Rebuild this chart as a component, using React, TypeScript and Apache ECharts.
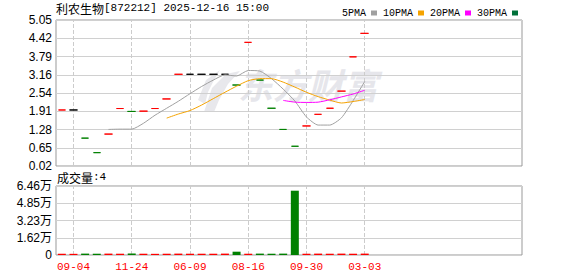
import React, { useEffect, useRef } from 'react';
import * as echarts from 'echarts';

// ---- data ----
const dates = [
  '08-28', '09-04', '09-20', '10-11', '10-30', '11-15', '11-24', '12-20', '02-26', '04-15',
  '05-22', '06-09', '06-27', '07-12', '07-25', '08-05', '08-16', '08-29', '09-06', '09-13',
  '09-23', '09-30', '10-21', '11-18', '12-09', '01-20', '03-03',
];
const closes = [
  1.95, 1.95, 0.98, 0.48, 1.12, 2.0, 1.9, 1.91, 2.0, 2.33,
  3.18, 3.18, 3.18, 3.18, 3.18, 2.81, 4.28, 2.98, 2.01, 1.28,
  0.7, 1.4, 1.8, 2.01, 2.6, 3.78, 4.59,
];
const volumes = [
  1200, 1100, 1300, 1200, 1300, 1200, 1300, 1200, 1100, 1200,
  1300, 1200, 1200, 1200, 1300, 3100, 1200, 1300, 1200, 1300,
  60200, 1200, 1300, 1200, 1300, 1200, 1300,
];
const ma5 = [
  null, null, null, null, 1.28, 1.29, 1.29, 1.49, 1.77, 2.01,
  2.25, 2.51, 2.76, 2.98, 3.16, 3.12, 3.31, 3.29, 3.03, 2.67,
  2.26, 1.71, 1.43, 1.43, 1.68, 2.27, 2.93,
];
const ma10 = [
  null, null, null, null, null, null, null, null, null, 1.67,
  1.81, 1.93, 2.12, 2.34, 2.56, 2.77, 2.96, 3.03, 3.03, 2.91,
  2.74, 2.56, 2.41, 2.29, 2.19, 2.24, 2.31,
];
const ma20 = [
  null, null, null, null, null, null, null, null, null, null,
  null, null, null, null, null, null, null, null, null, 2.28,
  2.22, 2.21, 2.22, 2.3, 2.4, 2.5, 2.63,
];
const ma30: (number | null)[] = [];
const priceTickLabels = ['0.02', '0.65', '1.28', '1.91', '2.54', '3.16', '3.79', '4.42', '5.05'];
const volumeTickLabels = ['0', '1.62万', '3.23万', '4.85万', '6.46万'];
const volumeAxisMax = 64600;
const legendNames = ['5PMA', '10PMA', '20PMA', '30PMA'];
const stockName = '利农生物';
const stockInfo = '[872212] 2025-12-16 15:00';
const volumeTitleName = '成交量';
const volumeTitleValue = ':4';
const watermarkText = '东方财富';

// ---- styles ----
const RED = '#ff0000';
const GREEN = '#008000';
const BLACK = '#000000';
const MA_COLORS = ['#a0a0a0', '#f5a300', '#ff00ff', '#00703a'];
const SLOTS = 40;
const LABEL_STEP = 5;
const LABEL_OFFSET = 1;
const MONO = 'Liberation Mono, DejaVu Sans Mono, monospace';
const SANS = 'Liberation Sans, Noto Sans CJK SC, sans-serif';
const CJK = 'Noto Sans CJK SC, sans-serif';

export default function App() {
  const ref = useRef<HTMLDivElement>(null);
  useEffect(() => {
    document.body.style.margin = '0';
    const chart = echarts.init(ref.current!, null, { renderer: 'svg' });

    const priceMin = parseFloat(priceTickLabels[0]);
    const priceMax = parseFloat(priceTickLabels[priceTickLabels.length - 1]);
    const priceStep = (priceMax - priceMin) / (priceTickLabels.length - 1);
    const priceTicks = priceTickLabels.map((_, i) => priceMin + i * priceStep);
    const volStep = volumeAxisMax / (volumeTickLabels.length - 1);

    const colorOf = (i: number) => {
      if (i === 0) return RED;
      if (closes[i] > closes[i - 1]) return RED;
      if (closes[i] < closes[i - 1]) return GREEN;
      return BLACK;
    };
    const volColorOf = (i: number) => (i === 0 || closes[i] >= closes[i - 1] ? RED : GREEN);

    const candleData = closes.map((c, i) => {
      const col = colorOf(i);
      return {
        value: [c, c, c, c],
        itemStyle: { color: col, color0: col, borderColor: col, borderColor0: col, borderColorDoji: col },
      };
    });
    const volData = volumes.map((v, i) => ({ value: v, itemStyle: { color: volColorOf(i) } }));

    const labelIdx = dates.map((_, i) => i).filter((i) => i % LABEL_STEP === LABEL_OFFSET);
    const vLineStyle = { type: 'dashed' as const, color: '#cccccc', width: 1 };
    const markLines = {
      silent: true,
      z: 1,
      symbol: ['none', 'none'],
      label: { show: false },
      lineStyle: vLineStyle,
      emphasis: { disabled: true },
      data: labelIdx.map((i) => ({ xAxis: dates[i] })),
    };

    const gridCommon = { left: 56, right: 56, show: true, borderColor: '#999999', borderWidth: 1, backgroundColor: 'transparent' };

    const option: any = {
      animation: false,
      backgroundColor: '#ffffff',
      grid: [
        { ...gridCommon, top: 20, height: 146 },
        { ...gridCommon, top: 186, height: 69 },
      ],
      legend: {
        data: legendNames,
        left: 337,
        top: 3,
        align: 'right',
        icon: 'rect',
        itemWidth: 6,
        itemHeight: 5,
        itemGap: 6,
        selectedMode: false,
        textStyle: { fontFamily: MONO, fontSize: 10, color: '#000' },
      },
      xAxis: [
        {
          type: 'category', gridIndex: 0, data: dates, max: SLOTS - 1,
          axisLine: { show: false }, axisTick: { show: false }, axisLabel: { show: false },
          splitLine: { show: false },
        },
        {
          type: 'category', gridIndex: 1, data: dates, max: SLOTS - 1,
          axisLine: { show: false }, axisTick: { show: false },
          axisLabel: {
            color: RED, fontFamily: MONO, fontSize: 11, margin: 6,
            interval: (i: number) => i < dates.length && i % LABEL_STEP === LABEL_OFFSET,
          },
          splitLine: { show: false },
        },
      ],
      yAxis: [
        {
          type: 'value', gridIndex: 0, min: priceMin, max: priceMax,
          axisLine: { show: false },
          axisTick: { show: false, customValues: priceTicks },
          axisLabel: {
            customValues: priceTicks,
            color: '#000', fontFamily: SANS, fontSize: 12, margin: 4,
            formatter: (v: number) => priceTickLabels[Math.round((v - priceMin) / priceStep)] ?? '',
          },
          splitLine: { show: true, lineStyle: { color: '#d0d0d0', width: 1 } },
        },
        {
          type: 'value', gridIndex: 1, min: 0, max: volumeAxisMax, interval: volStep,
          axisLine: { show: false }, axisTick: { show: false },
          axisLabel: {
            color: '#000', fontFamily: SANS, fontSize: 12, margin: 4,
            formatter: (v: number) => volumeTickLabels[Math.round(v / volStep)] ?? '',
          },
          splitLine: { show: true, lineStyle: { color: '#d0d0d0', width: 1 } },
        },
      ],
      graphic: [
        {
          type: 'text', left: 56, top: 2, z: 10,
          style: {
            text: `{a|${stockName}}{b|${stockInfo}}`,
            rich: {
              a: { fontFamily: CJK, fontSize: 12, fill: '#000' },
              b: { fontFamily: MONO, fontSize: 11, fill: '#000' },
            },
          },
        },
        {
          type: 'text', left: 57, top: 171, z: 10,
          style: {
            text: `{a|${volumeTitleName}}{b|${volumeTitleValue}}`,
            rich: {
              a: { fontFamily: CJK, fontSize: 12, fill: '#000' },
              b: { fontFamily: MONO, fontSize: 11, fill: '#000' },
            },
          },
        },
        {
          type: 'polygon', z: -1, silent: true,
          shape: { points: [[204, 112], [212, 88], [226, 74], [240, 71], [228, 84], [219, 100], [214, 112]] },
          style: { fill: '#e8e8ec' },
        },
        {
          type: 'polygon', z: -1, silent: true,
          shape: { points: [[198, 100], [206, 80], [220, 70], [214, 80], [208, 92], [205, 104]] },
          style: { fill: '#e8e8ec' },
        },
        {
          type: 'text', left: 238, top: 66, z: -1, silent: true,
          style: {
            text: watermarkText, fontFamily: CJK, fontSize: 35, fontWeight: 'bold', fontStyle: 'italic',
            fill: '#e6e6eb',
          },
        },
      ],
      series: [
        {
          type: 'candlestick', name: 'K', xAxisIndex: 0, yAxisIndex: 0,
          data: candleData, barWidth: 8,
          itemStyle: { borderWidth: 1 },
          markLine: markLines,
        },
        ...[ma5, ma10, ma20, ma30].map((d, k) => ({
          type: 'line', name: legendNames[k], xAxisIndex: 0, yAxisIndex: 0,
          data: d, symbol: 'none', smooth: 0.2, connectNulls: false,
          lineStyle: { color: MA_COLORS[k], width: 1 },
          itemStyle: { color: MA_COLORS[k] },
        })),
        {
          type: 'bar', name: 'VOL', xAxisIndex: 1, yAxisIndex: 1,
          data: volData, barWidth: 8,
          markLine: markLines,
        },
      ],
    };
    chart.setOption(option);
    return () => chart.dispose();
  }, []);
  return <div ref={ref} style={{ width: 578, height: 276 }} />;
}
